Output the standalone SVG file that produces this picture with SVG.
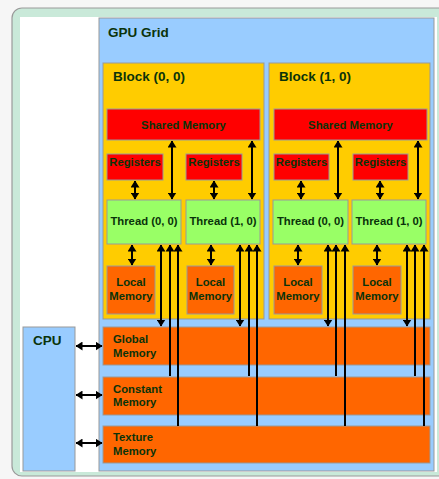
<svg xmlns="http://www.w3.org/2000/svg" width="439" height="479" viewBox="0 0 439 479">
<style>
.t{font-family:"Liberation Sans",Arial,sans-serif;font-weight:bold;fill:#0a330a}
.big{font-size:13.5px}
.sm{font-size:11.3px}
.box{stroke:#999;stroke-width:1}
.grid{fill:#99ccff}
.blk{fill:#ffcc00}
.red{fill:#ff0000}
.thr{fill:#99ff66}
.org{fill:#ff6600}
.c{stroke:#000;stroke-width:2;fill:none}
.bi{marker-start:url(#h);marker-end:url(#h)}
.up{marker-start:url(#h)}
</style>
<defs>
<marker id="h" viewBox="0 0 7 9" refX="6.5" refY="4.5" markerWidth="7" markerHeight="9" orient="auto-start-reverse" markerUnits="userSpaceOnUse">
<path d="M0,0 L7,4.5 L0,9 z" fill="#000"/>
</marker>
</defs>
<rect x="0" y="0" width="439" height="479" fill="#f6f6f6"/>
<g id="frame">
<rect x="12" y="8" width="440" height="468" rx="10" fill="#c9e9d9" stroke="#9a9a9a" stroke-width="1.2"/>
<rect x="20" y="17" width="417" height="455" fill="#ffffff"/>
</g>
<g id="gpu-grid">
<rect class="box grid" x="99" y="18" width="335" height="453"/>
<text class="t big" x="108" y="37">GPU Grid</text>
</g>
<g id="cpu">
<rect class="box grid" x="23" y="327" width="52" height="144"/>
<text class="t big" x="33" y="345">CPU</text>
</g>
<g id="block-0-0">
<rect class="box blk" x="103" y="63" width="161" height="256"/>
<text class="t big" x="113" y="81">Block (0, 0)</text>
</g>
<g id="block-1-0">
<rect class="box blk" x="269" y="63" width="161" height="256"/>
<text class="t big" x="279" y="81">Block (1, 0)</text>
</g>
<g id="shared-0">
<rect class="box red" x="107" y="109" width="153" height="31"/>
<text class="t sm" x="183.5" y="129" text-anchor="middle">Shared Memory</text>
</g>
<g id="shared-1">
<rect class="box red" x="274" y="109" width="153" height="31"/>
<text class="t sm" x="350.5" y="129" text-anchor="middle">Shared Memory</text>
</g>
<g id="reg-0-0"><rect class="box red" x="107" y="154" width="56" height="26"/><text class="t sm" x="135" y="166" text-anchor="middle">Registers</text></g>
<g id="reg-0-1"><rect class="box red" x="186" y="154" width="56" height="26"/><text class="t sm" x="214" y="166" text-anchor="middle">Registers</text></g>
<g id="reg-1-0"><rect class="box red" x="274" y="154" width="55" height="26"/><text class="t sm" x="301.5" y="166" text-anchor="middle">Registers</text></g>
<g id="reg-1-1"><rect class="box red" x="353" y="154" width="55" height="26"/><text class="t sm" x="380.5" y="166" text-anchor="middle">Registers</text></g>
<g id="thread-0-0"><rect class="box thr" x="107" y="200" width="74" height="44"/><text class="t sm" x="144" y="225" text-anchor="middle">Thread (0, 0)</text></g>
<g id="thread-0-1"><rect class="box thr" x="186" y="200" width="74" height="44"/><text class="t sm" x="223" y="225" text-anchor="middle">Thread (1, 0)</text></g>
<g id="thread-1-0"><rect class="box thr" x="273" y="200" width="75" height="44"/><text class="t sm" x="310.5" y="225" text-anchor="middle">Thread (0, 0)</text></g>
<g id="thread-1-1"><rect class="box thr" x="352" y="200" width="74" height="44"/><text class="t sm" x="389" y="225" text-anchor="middle">Thread (1, 0)</text></g>
<g id="local-0-0"><rect class="box org" x="107" y="266" width="48" height="48"/><text class="t sm" x="131" y="286" text-anchor="middle">Local</text><text class="t sm" x="131" y="300" text-anchor="middle">Memory</text></g>
<g id="local-0-1"><rect class="box org" x="187" y="266" width="47" height="48"/><text class="t sm" x="210.5" y="286" text-anchor="middle">Local</text><text class="t sm" x="210.5" y="300" text-anchor="middle">Memory</text></g>
<g id="local-1-0"><rect class="box org" x="274" y="266" width="48" height="48"/><text class="t sm" x="298" y="286" text-anchor="middle">Local</text><text class="t sm" x="298" y="300" text-anchor="middle">Memory</text></g>
<g id="local-1-1"><rect class="box org" x="353" y="266" width="48" height="48"/><text class="t sm" x="377" y="286" text-anchor="middle">Local</text><text class="t sm" x="377" y="300" text-anchor="middle">Memory</text></g>
<g id="global-memory"><rect class="box org" x="103" y="327" width="327" height="38"/><text class="t sm" x="113" y="343">Global</text><text class="t sm" x="113" y="357">Memory</text></g>
<g id="constant-memory"><rect class="box org" x="103" y="377" width="327" height="38"/><text class="t sm" x="113" y="393">Constant</text><text class="t sm" x="113" y="406">Memory</text></g>
<g id="texture-memory"><rect class="box org" x="103" y="426" width="327" height="37"/><text class="t sm" x="113" y="441">Texture</text><text class="t sm" x="113" y="455">Memory</text></g>
<g id="connectors">
<line class="c bi" x1="172" y1="141" x2="172" y2="199"/>
<line class="c bi" x1="252" y1="141" x2="252" y2="199"/>
<line class="c bi" x1="338" y1="141" x2="338" y2="199"/>
<line class="c bi" x1="418" y1="141" x2="418" y2="199"/>
<line class="c bi" x1="135" y1="181" x2="135" y2="199"/>
<line class="c bi" x1="214" y1="181" x2="214" y2="199"/>
<line class="c bi" x1="301" y1="181" x2="301" y2="199"/>
<line class="c bi" x1="380" y1="181" x2="380" y2="199"/>
<line class="c bi" x1="132" y1="245" x2="132" y2="265"/>
<line class="c bi" x1="211" y1="245" x2="211" y2="265"/>
<line class="c bi" x1="298" y1="245" x2="298" y2="265"/>
<line class="c bi" x1="377" y1="245" x2="377" y2="265"/>
<line class="c bi" x1="161" y1="245" x2="161" y2="326"/>
<line class="c up" x1="170" y1="245" x2="170" y2="376"/>
<line class="c up" x1="178" y1="245" x2="178" y2="426"/>
<line class="c bi" x1="240" y1="245" x2="240" y2="326"/>
<line class="c up" x1="249" y1="245" x2="249" y2="376"/>
<line class="c up" x1="257" y1="245" x2="257" y2="426"/>
<line class="c bi" x1="328" y1="245" x2="328" y2="326"/>
<line class="c up" x1="336" y1="245" x2="336" y2="376"/>
<line class="c up" x1="345" y1="245" x2="345" y2="426"/>
<line class="c bi" x1="407" y1="245" x2="407" y2="326"/>
<line class="c up" x1="415" y1="245" x2="415" y2="376"/>
<line class="c up" x1="424" y1="245" x2="424" y2="426"/>
<line class="c bi" x1="76" y1="346" x2="102" y2="346"/>
<line class="c bi" x1="76" y1="395" x2="102" y2="395"/>
<line class="c bi" x1="76" y1="443" x2="102" y2="443"/>
</g>
</svg>
